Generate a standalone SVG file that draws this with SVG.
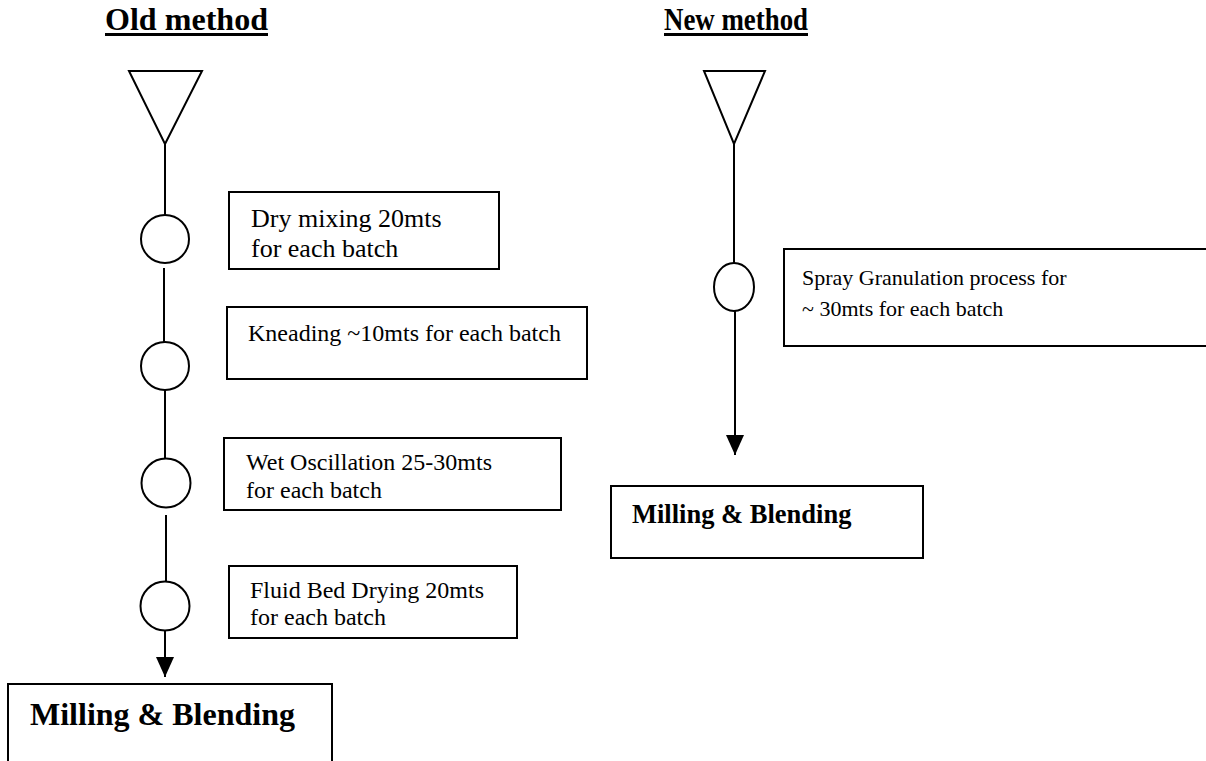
<svg xmlns="http://www.w3.org/2000/svg" width="1206" height="761" viewBox="0 0 1206 761">
<style>
.s{fill:none;stroke:#000;stroke-width:2}
.b{fill:#fff;stroke:#000;stroke-width:2}
.t{font-family:"Liberation Serif","Times New Roman",serif;fill:#000}
.h{font-family:"Liberation Serif","Times New Roman",serif;font-weight:bold;fill:#000}
</style>
<defs>
<marker id="arr" markerUnits="userSpaceOnUse" viewBox="0 0 20 20" markerWidth="20" markerHeight="20" refX="20" refY="10" orient="auto">
<path d="M0,1 L20,10 L0,19 z" fill="#000"/>
</marker>
</defs>
<rect width="1206" height="761" fill="#fff"/>
<g id="titles">
<text class="h" x="105" y="30" font-size="32" textLength="163" lengthAdjust="spacingAndGlyphs">Old method</text>
<rect x="105" y="33" width="163" height="3" fill="#000"/>
<text class="h" x="664" y="30" font-size="32" textLength="144" lengthAdjust="spacingAndGlyphs">New method</text>
<rect x="664" y="33" width="144" height="3" fill="#000"/>
</g>
<g id="connectors">
<line class="s" x1="165" y1="144" x2="165" y2="215"/>
<line class="s" x1="164" y1="268" x2="164" y2="342"/>
<line class="s" x1="165" y1="390" x2="165" y2="459"/>
<line class="s" x1="166" y1="515" x2="166" y2="582"/>
<line class="s" x1="165" y1="631" x2="165" y2="677" marker-end="url(#arr)"/>
<line class="s" x1="734" y1="144" x2="734" y2="263"/>
<line class="s" x1="735" y1="311" x2="735" y2="455" marker-end="url(#arr)"/>
</g>
<g id="old-start"><polygon class="b" points="129,71 202,71 165,144"/></g>
<g id="old-step1"><circle class="b" cx="165" cy="239" r="24"/></g>
<g id="old-step2"><circle class="b" cx="165" cy="366" r="24"/></g>
<g id="old-step3"><circle class="b" cx="166" cy="483" r="24.5"/></g>
<g id="old-step4"><circle class="b" cx="165" cy="606" r="24.5"/></g>
<g id="old-box1">
<rect class="b" x="229" y="192" width="270" height="77"/>
<text class="t" x="251" y="227" font-size="26">Dry mixing 20mts</text>
<text class="t" x="251" y="257" font-size="26">for each batch</text>
</g>
<g id="old-box2">
<rect class="b" x="227" y="307" width="360" height="72"/>
<text class="t" x="248" y="341" font-size="24">Kneading ~10mts for each batch</text>
</g>
<g id="old-box3">
<rect class="b" x="224" y="438" width="337" height="72"/>
<text class="t" x="246" y="470" font-size="24">Wet Oscillation 25-30mts</text>
<text class="t" x="246" y="498" font-size="24">for each batch</text>
</g>
<g id="old-box4">
<rect class="b" x="229" y="566" width="288" height="72"/>
<text class="t" x="250" y="598" font-size="24">Fluid Bed Drying 20mts</text>
<text class="t" x="250" y="625" font-size="24">for each batch</text>
</g>
<g id="old-end">
<rect class="b" x="8" y="684" width="324" height="90"/>
<text class="h" x="30" y="725" font-size="32">Milling &amp; Blending</text>
</g>
<g id="new-start"><polygon class="b" points="704,71 765,71 734,144"/></g>
<g id="new-step1"><ellipse class="b" cx="734" cy="287" rx="20" ry="24"/></g>
<g id="new-box1">
<rect class="b" x="784" y="249" width="440" height="97"/>
<text class="t" x="802" y="285" font-size="22">Spray Granulation process for</text>
<text class="t" x="802" y="316" font-size="22">~ 30mts for each batch</text>
</g>
<g id="new-end">
<rect class="b" x="611" y="486" width="312" height="72"/>
<text class="h" x="632" y="523" font-size="26.5">Milling &amp; Blending</text>
</g>
</svg>
